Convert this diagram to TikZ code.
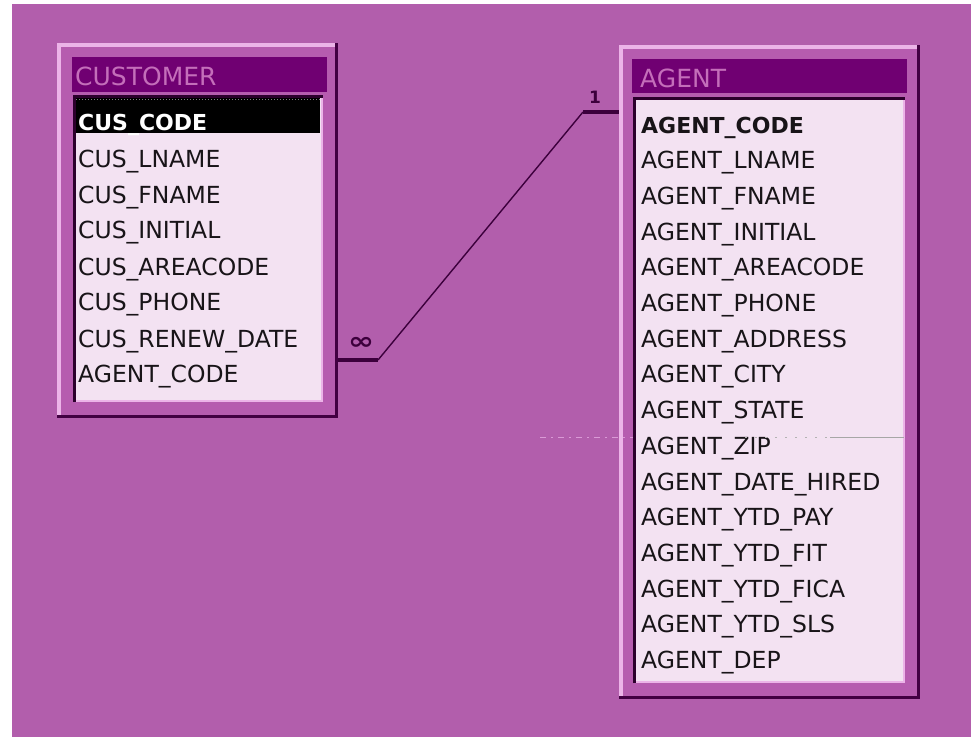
\documentclass[tikz,border=0pt]{standalone}
\usepackage{fontspec}
\setmainfont{DejaVu Sans}
\definecolor{bgpurple}{RGB}{178,94,172}
\definecolor{framebody}{RGB}{182,92,175}
\definecolor{framelight}{RGB}{236,180,232}
\definecolor{framedark}{RGB}{66,0,66}
\definecolor{titlebar}{RGB}{112,0,114}
\definecolor{titletext}{RGB}{196,110,186}
\definecolor{listfill}{RGB}{243,226,242}
\definecolor{listdark}{RGB}{44,0,44}
\definecolor{rowtext}{RGB}{24,20,24}
\definecolor{relline}{RGB}{60,0,60}
\begin{document}
\begin{tikzpicture}[x=1pt,y=-1pt,
  field/.style={anchor=base west, inner sep=0pt, text=rowtext,
    font=\fontsize{23.5}{24}\selectfont},
  keyfield/.style={field, font=\fontsize{22}{24}\selectfont\bfseries},
  tabletitle/.style={anchor=base west, inner sep=0pt, text=titletext,
    font=\fontsize{25}{26}\selectfont},
  relthick/.style={draw=relline, line width=4pt},
  relthin/.style={draw=relline, line width=1.4pt},
  cardlabel/.style={inner sep=0pt, text=relline}
]
\useasboundingbox (0,0) rectangle (971,737);
\fill[white] (0,0) rectangle (971,737);
\fill[bgpurple] (12,4) rectangle (971,737);

% ---------- CUSTOMER table ----------
\fill[framebody] (57,43) rectangle (338,418);
\draw[framelight, line width=4pt] (59,416) -- (59,45) -- (336,45);
\draw[framedark, line width=3pt] (57,416.5) -- (336.5,416.5) -- (336.5,43);
\fill[titlebar] (72,57) rectangle (327,92);
\node[tabletitle] (custitle) at (75,85) {CUSTOMER};
\fill[listfill] (73,95) rectangle (323,402);
\draw[framelight, line width=2pt] (74,401) -- (322,401) -- (322,96);
\draw[listdark, line width=3pt] (74.5,402) -- (74.5,96.5) -- (323,96.5);
\fill[black] (76,98) rectangle (320,133);
\draw[gray, dotted, line width=1pt] (76,99) -- (320,99);
\node[keyfield, text=white] (cuscode) at (78,130) {CUS\_CODE};
\node[field] (cuslname)   at (78,167) {CUS\_LNAME};
\node[field] (cusfname)   at (78,203) {CUS\_FNAME};
\node[field] (cusinitial) at (78,238) {CUS\_INITIAL};
\node[field] (cusarea)    at (78,275) {CUS\_AREACODE};
\node[field] (cusphone)   at (78,310) {CUS\_PHONE};
\node[field] (cusrenew)   at (78,347) {CUS\_RENEW\_DATE};
\node[field] (cusagent)   at (78,382) {AGENT\_CODE};

% ---------- AGENT table ----------
\fill[framebody] (619,45) rectangle (920,699);
\draw[framelight, line width=4pt] (621,697) -- (621,47) -- (918,47);
\draw[framedark, line width=3pt] (619,697.5) -- (918.5,697.5) -- (918.5,45);
\fill[titlebar] (632,59) rectangle (907,93);
\node[tabletitle] (agtitle) at (640,87) {AGENT};
\fill[listfill] (633,97) rectangle (905,683);
\draw[framelight, line width=2pt] (634,682) -- (904,682) -- (904,98);
\draw[listdark, line width=3pt] (634.5,683) -- (634.5,98.5) -- (905,98.5);
\node[keyfield] (agcode) at (641,133) {AGENT\_CODE};
\foreach \fname [count=\i] in {AGENT\_LNAME, AGENT\_FNAME, AGENT\_INITIAL,
    AGENT\_AREACODE, AGENT\_PHONE, AGENT\_ADDRESS, AGENT\_CITY, AGENT\_STATE,
    AGENT\_ZIP, AGENT\_DATE\_HIRED, AGENT\_YTD\_PAY, AGENT\_YTD\_FIT,
    AGENT\_YTD\_FICA, AGENT\_YTD\_SLS, AGENT\_DEP}
  \node[field] (agrow\i) at (641,{133+35.7*\i}) {\fname};

% faint guide line across the AGENT_ZIP row
\draw[framelight, opacity=0.7, line width=1pt, dash pattern=on 6pt off 5pt on 2pt off 5pt]
  (540,437) -- (633,437);
\draw[gray!60, line width=1pt, dash pattern=on 2pt off 8pt] (745,437) -- (830,437);
\draw[gray!70, line width=1pt] (830,437) -- (904,437);

% ---------- relationship CUSTOMER (many) -- AGENT (one) ----------
\coordinate (cusfk)   at (338,360);
\coordinate (cusbend) at (378,360);
\coordinate (agbend)  at (583,112);
\coordinate (agpk)    at (619,112);
\draw[relthick] (cusfk) -- (cusbend);
\draw[relthin] (cusbend) -- (agbend);
\draw[relthick] (agbend) -- (agpk);
\node[cardlabel, font=\fontsize{24}{24}\selectfont\bfseries, xscale=1.3]
  (manylabel) at (361,343) {∞};
\node[cardlabel, font=\fontsize{17}{17}\selectfont\bfseries] (onelabel) at (595,97) {1};
\end{tikzpicture}
\end{document}
